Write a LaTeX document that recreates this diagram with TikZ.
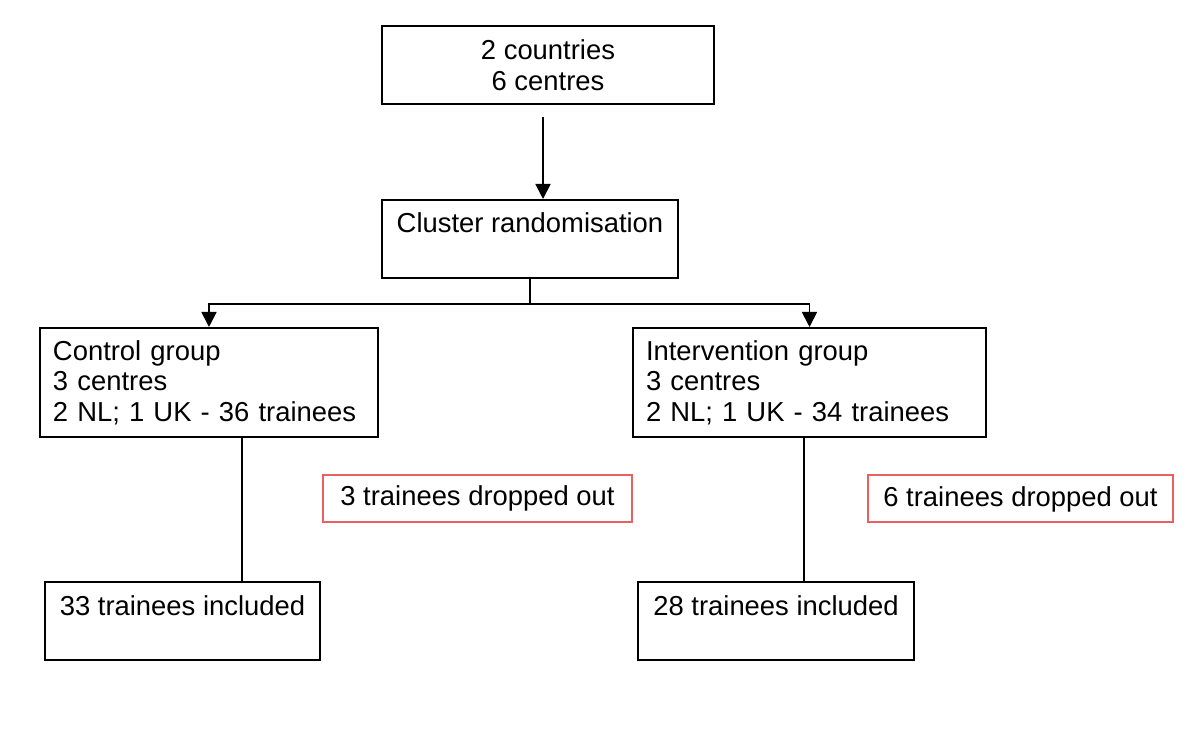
\documentclass[tikz,border=0pt]{standalone}
\usepackage{fontspec}
\setmainfont{Liberation Sans}
\usetikzlibrary{arrows.meta}
\definecolor{dropred}{RGB}{232,96,96}

\begin{document}
\begin{tikzpicture}[
	x=0.5pt, y=-0.5pt,
	font=\fontsize{13.7}{15.25}\selectfont,
	line width=0.9pt,
	box/.style={draw, line width=1pt, inner xsep=6.5pt, inner ysep=6pt},
	openbox/.style={box, align=center, text height=10pt, text depth=16pt, inner ysep=6.5pt},
	groupbox/.style={box, align=left, minimum height=54.5pt},
	dropbox/.style={draw=dropred, line width=1pt, minimum height=23.5pt},
	arrow/.style={-{Triangle[length=7.5pt, width=7.5pt]}},
]
	\useasboundingbox (0,0) rectangle (1200,731);

	\node (sites) [box, align=center, minimum width=166pt, minimum height=39pt] at (548,65) {2 countries\\6 centres};
	\node (rand) [openbox, minimum width=148pt] at (530,239) {Cluster randomisation};
	\node (ctrl) [groupbox, text width=156pt] at (209,382.5) {Control group\\3 centres\\2 NL; 1 UK - 36 trainees};
	\node (intv) [groupbox, text width=163.5pt] at (809.5,382.5) {Intervention group\\3 centres\\2 NL; 1 UK - 34 trainees};
	\node (dropc) [dropbox, minimum width=154.5pt] at (477.5,498.5) {3 trainees dropped out};
	\node (dropi) [dropbox, minimum width=152.5pt] at (1020.5,499) {6 trainees dropped out};
	\node (inclc) [openbox, minimum width=137.5pt] at (182.5,621.5) {33 trainees included};
	\node (incli) [openbox, minimum width=138pt] at (776,621.5) {28 trainees included};

	\coordinate (split) at ([yshift=-12.5pt]rand.south);

	\draw[arrow, shorten <=6pt] ([xshift=-2.5pt]sites.south) -- ([xshift=-2.5pt]sites.south |- rand.north);
	\draw (rand.south) -- (split);
	\draw[arrow] (split) -| (ctrl.north);
	\draw[arrow] (split) -| (intv.north);
	\draw ([xshift=16.5pt]ctrl.south) -- ([xshift=16.5pt]ctrl.south |- inclc.north);
	\draw ([xshift=-2.75pt]intv.south) -- ([xshift=-2.75pt]intv.south |- incli.north);
\end{tikzpicture}
\end{document}
